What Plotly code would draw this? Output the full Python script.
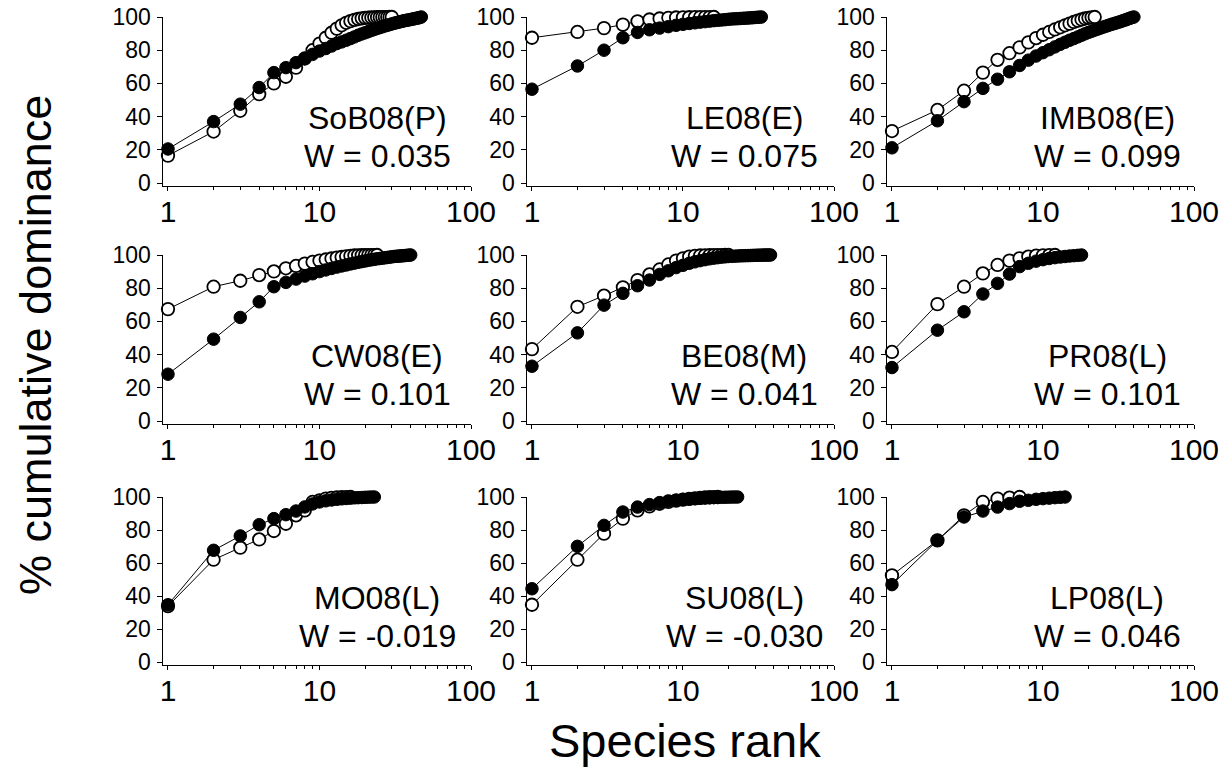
import numpy as np
import plotly.graph_objects as go

# Sites and Wilcoxon-style W statistic for each panel
sites = ["SoB08(P)", "LE08(E)", "IMB08(E)",
         "CW08(E)", "BE08(M)", "PR08(L)",
         "MO08(L)", "SU08(L)", "LP08(L)"]
w_values = ["0.035", "0.075", "0.099", "0.101", "0.041", "0.101", "-0.019", "-0.030", "0.046"]

# % cumulative dominance by species rank (filled = black circles, open = white circles)
sob_filled = [20.5, 37.0, 47.5, 57.5, 66.5, 69.5, 72.5, 75.0, 77.5, 79.5, 81.0, 82.5, 84.0, 85.0, 86.0,
              87.0, 88.0, 89.0, 89.8, 90.5, 91.2, 91.9, 92.5, 93.1, 93.6, 94.1, 94.6, 95.0, 95.4, 95.8,
              96.2, 96.5, 96.8, 97.1, 97.4, 97.7, 97.9, 98.1, 98.3, 98.5, 98.7, 98.9, 99.1, 99.3, 99.5,
              99.7, 100.0]
sob_open = [16.5, 31.0, 43.5, 53.5, 60.0, 64.0, 69.5, 75.0, 80.0, 84.0, 87.5, 90.5, 93.0, 95.0, 96.5,
            97.5, 98.3, 98.8, 99.2, 99.5, 99.6, 99.7, 99.8, 99.85, 99.9, 99.93, 99.95, 99.97, 99.99, 100.0]

le_filled = [56.5, 70.5, 80.0, 87.5, 90.7, 92.3, 93.3, 94.2, 95.0, 95.6, 96.1, 96.5, 96.9, 97.2, 97.5,
             97.8, 98.0, 98.2, 98.4, 98.6, 98.8, 98.9, 99.0, 99.1, 99.2, 99.3, 99.4, 99.5, 99.6, 99.7,
             99.8, 99.9, 100.0]
le_open = [87.5, 91.0, 93.3, 95.4, 97.4, 98.5, 99.1, 99.5, 99.7, 99.8, 99.85, 99.9, 99.93, 99.96, 99.98, 100.0]

imb_filled = [21.2, 37.5, 49.0, 57.0, 62.5, 67.0, 70.8, 74.0, 76.5, 78.5, 80.3, 82.0, 83.5, 84.8, 86.0,
              87.0, 88.0, 89.0, 89.9, 90.7, 91.4, 92.1, 92.7, 93.3, 93.9, 94.4, 94.9, 95.4, 95.8, 96.2,
              96.6, 97.0, 97.4, 97.8, 98.2, 98.6, 99.0, 99.4, 99.7, 100.0]
imb_open = [31.3, 44.0, 55.6, 66.5, 74.2, 78.2, 81.7, 84.7, 87.3, 89.3, 91.0, 92.5, 93.8, 95.0, 96.0,
            97.0, 97.8, 98.5, 99.1, 99.5, 99.8, 100.0]

cw_filled = [28.2, 49.3, 62.4, 71.8, 80.9, 83.5, 85.5, 87.3, 88.7, 90.0, 91.0, 91.9, 92.7, 93.4, 94.0,
             94.6, 95.1, 95.6, 96.0, 96.4, 96.8, 97.1, 97.4, 97.7, 97.9, 98.1, 98.3, 98.5, 98.7, 98.9,
             99.1, 99.2, 99.3, 99.4, 99.5, 99.6, 99.7, 99.8, 99.9, 100.0]
cw_open = [67.4, 80.9, 84.5, 87.9, 90.1, 92.0, 93.4, 94.8, 95.8, 96.6, 97.3, 97.9, 98.4, 98.8, 99.2,
           99.5, 99.7, 99.8, 99.85, 99.9, 99.93, 99.96, 99.98, 100.0]

be_filled = [33.0, 53.1, 69.8, 76.9, 81.5, 84.9, 88.3, 90.5, 92.4, 93.8, 95.0, 95.9, 96.6, 97.2, 97.7,
             98.1, 98.4, 98.7, 98.9, 99.1, 99.2, 99.3, 99.4, 99.5, 99.55, 99.6, 99.65, 99.7, 99.75, 99.8,
             99.84, 99.88, 99.91, 99.94, 99.96, 99.98, 99.99, 100.0]
be_open = [43.3, 68.8, 75.5, 80.5, 84.9, 88.3, 91.3, 94.3, 96.6, 98.0, 99.0, 99.5, 99.7, 99.8, 99.85,
           99.9, 99.94, 99.97, 99.99, 100.0]

pr_filled = [32.2, 54.7, 65.8, 76.5, 82.9, 88.5, 93.0, 95.0, 96.3, 97.2, 97.9, 98.4, 98.8, 99.1, 99.4,
             99.6, 99.8, 100.0]
pr_open = [41.6, 70.4, 80.9, 88.9, 94.0, 96.6, 98.0, 99.0, 99.6, 99.8, 99.9, 100.0]

mo_filled = [34.7, 67.7, 76.4, 83.2, 86.9, 89.3, 91.5, 94.0, 95.8, 97.0, 97.7, 98.2, 98.6, 98.9, 99.1,
             99.3, 99.5, 99.6, 99.7, 99.8, 99.9, 99.95, 100.0]
mo_open = [33.9, 62.0, 69.3, 74.3, 79.4, 83.8, 88.9, 91.9, 97.0, 98.0, 99.0, 99.5, 99.7, 99.85, 99.95, 100.0]

su_filled = [44.4, 70.1, 82.8, 90.9, 93.9, 95.4, 96.6, 97.6, 98.1, 98.5, 98.8, 99.1, 99.3, 99.45, 99.55,
             99.65, 99.72, 99.8, 99.85, 99.9, 99.95, 99.98, 100.0]
su_open = [34.7, 62.0, 77.8, 86.9, 91.9, 94.3, 95.9, 97.0, 97.8, 98.4, 98.9, 99.2, 99.5, 99.7, 99.85,
           99.95, 100.0]

lp_filled = [46.9, 73.7, 87.9, 91.5, 93.9, 96.0, 97.4, 98.0, 98.6, 99.0, 99.3, 99.6, 99.8, 100.0]
lp_open = [52.5, 73.7, 88.9, 97.0, 99.0, 99.6, 100.0]

panels = [(sob_filled, sob_open), (le_filled, le_open), (imb_filled, imb_open),
          (cw_filled, cw_open), (be_filled, be_open), (pr_filled, pr_open),
          (mo_filled, mo_open), (su_filled, su_open), (lp_filled, lp_open)]

x_ticks = [1, 10, 100]
x_minor = [2, 3, 4, 5, 6, 7, 8, 9, 20, 30, 40, 50, 60, 70, 80, 90]
y_ticks = [0, 20, 40, 60, 80, 100]

W, H = 1222, 769
FONT = "Liberation Sans, Arial, sans-serif"
# panel boxes in pixels
col_px = [(162.5, 471), (526.5, 834), (886.5, 1194)]
row_px = [(17, 185.5), (255, 423.5), (497, 664.5)]
label_x = [377, 744, 1107]

fig = go.Figure()
layout = dict(width=W, height=H, margin=dict(l=0, r=0, t=0, b=0, autoexpand=False),
              paper_bgcolor="white", plot_bgcolor="white", showlegend=False,
              font=dict(family=FONT, color="black"))
annotations = []

for i, (filled, opened) in enumerate(panels):
    r, c = divmod(i, 3)
    n = "" if i == 0 else str(i + 1)
    xa, ya = "x" + n, "y" + n
    for vals, fill, lw in [(opened, "white", 1.8), (filled, "black", 1)]:
        fig.add_trace(go.Scatter(
            x=list(range(1, len(vals) + 1)), y=vals, xaxis=xa, yaxis=ya,
            mode="lines+markers", cliponaxis=False,
            line=dict(color="black", width=1),
            marker=dict(symbol="circle", size=12.5, color=fill,
                        line=dict(color="black", width=lw))))
    l, rr = col_px[c]
    t, b = row_px[r]
    layout["xaxis" + n] = dict(
        type="log", range=[np.log10(0.92), 2], domain=[l / W, rr / W], anchor=ya,
        automargin=False,
        showline=True, linecolor="black", linewidth=1, showgrid=False, zeroline=False,
        tickvals=x_ticks, ticktext=[str(v) for v in x_ticks], ticks="outside",
        ticklen=4, tickcolor="black", ticklabelstandoff=-5,
        tickfont=dict(size=30, family=FONT),
        minor=dict(tickvals=x_minor, ticks="outside", ticklen=3, tickcolor="black", showgrid=False))
    layout["yaxis" + n] = dict(
        range=[-1.5, 100], domain=[1 - b / H, 1 - t / H], anchor=xa,
        automargin=False,
        showline=True, linecolor="black", linewidth=1, showgrid=False, zeroline=False,
        tickvals=y_ticks, ticks="outside", ticklen=5, tickcolor="black", ticklabelstandoff=1,
        tickfont=dict(size=23, family=FONT))
    annotations.append(dict(x=label_x[c] / W, y=1 - (t + 101) / H, xref="paper", yref="paper",
                            text=sites[i], showarrow=False, xanchor="center", yanchor="middle",
                            font=dict(size=32, family=FONT)))
    annotations.append(dict(x=label_x[c] / W, y=1 - (t + 139) / H, xref="paper", yref="paper",
                            text="W = " + w_values[i], showarrow=False, xanchor="center",
                            yanchor="middle", font=dict(size=32, family=FONT)))

annotations.append(dict(x=35 / W, y=1 - 345 / H, xref="paper", yref="paper",
                        text="% cumulative dominance", textangle=-90, showarrow=False,
                        xanchor="center", yanchor="middle", font=dict(size=45, family=FONT)))
annotations.append(dict(x=685 / W, y=1 - 740 / H, xref="paper", yref="paper",
                        text="Species rank", showarrow=False,
                        xanchor="center", yanchor="middle", font=dict(size=47, family=FONT)))
layout["annotations"] = annotations

fig.update_layout(**layout)
# drop the page's default body margin so the figure sits at the window's corner
fig.write_html("out.html", config={"displayModeBar": False},
               post_script="document.body.style.margin='0px';")
